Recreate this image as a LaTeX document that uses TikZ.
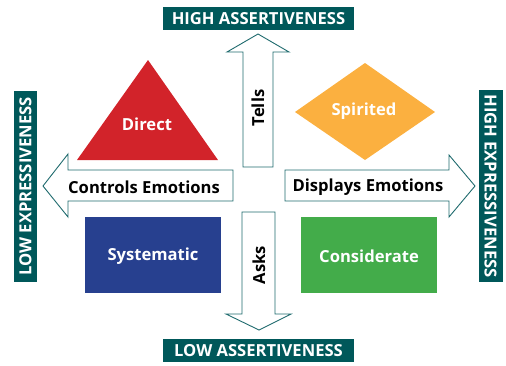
\documentclass[tikz,border=0pt]{standalone}
\usepackage{fontspec}
\setmainfont{Open Sans}
\definecolor{teal}{HTML}{00585A}
\definecolor{arrline}{HTML}{1F6B6E}
\definecolor{dred}{HTML}{D2232A}
\definecolor{dorange}{HTML}{FBB040}
\definecolor{dblue}{HTML}{27408F}
\definecolor{dgreen}{HTML}{43AC4A}
\begin{document}
\begin{tikzpicture}[x=1pt,y=-1pt,
  lbl/.style={fill=teal,text=white,font=\bfseries\fontsize{16.6}{18}\selectfont,inner sep=0pt},
  arr/.style={draw=arrline,line width=0.9pt,fill=white,line join=miter},
  arrtxt/.style={text=black,font=\bfseries\fontsize{16.6}{18}\selectfont,inner sep=0pt},
  shptxt/.style={text=white,font=\bfseries\fontsize{16.6}{18}\selectfont,inner sep=0pt}]
\useasboundingbox (0,0) rectangle (506,365);
% labels
\node[lbl,minimum width=191pt,minimum height=23pt] (ha) at (258.5,18.5) {HIGH ASSERTIVENESS};
\node[lbl,minimum width=191pt,minimum height=23pt] (la) at (258.5,350.5) {LOW ASSERTIVENESS};
\node[lbl,minimum width=191pt,minimum height=23pt,rotate=90] (le) at (25.5,186.5) {LOW EXPRESSIVENESS};
\node[lbl,minimum width=192pt,minimum height=24pt,rotate=-90] (he) at (490.5,186) {HIGH EXPRESSIVENESS};
% arrows
\draw[arr] (243,167) -- (243,52) -- (227,52) -- (258,34) -- (289,52) -- (273,52) -- (273,167) -- cycle;
\draw[arr] (242,212) -- (275,212) -- (275,314) -- (291,314) -- (259,330) -- (226,314) -- (242,314) -- cycle;
\draw[arr] (233,170) -- (68,170) -- (68,154) -- (43,186) -- (68,217) -- (68,201) -- (233,201) -- cycle;
\draw[arr] (285,170) -- (449,170) -- (449,155) -- (475,186) -- (449,217) -- (449,201) -- (285,201) -- cycle;
\node[arrtxt,rotate=90] (tells) at (258,108) {Tells};
\node[arrtxt,rotate=90] (asks) at (259,265) {Asks};
\node[arrtxt] (ce) at (144,187) {Controls Emotions};
\node[arrtxt] (de) at (368,187) {Displays Emotions};
% shapes
\fill[dred] (148,60) -- (218,160) -- (77,160) -- cycle;
\node[shptxt] (direct) at (147,124) {Direct};
\fill[dorange] (365,63) -- (435,112) -- (365,160) -- (295,112) -- cycle;
\node[shptxt] (spirited) at (364,111) {Spirited};
\fill[dblue] (85,217) rectangle (221,293);
\node[shptxt] (sys) at (153,256) {Systematic};
\fill[dgreen] (301,217) rectangle (437,293);
\node[shptxt] (cons) at (369,256) {Considerate};
\end{tikzpicture}
\end{document}
